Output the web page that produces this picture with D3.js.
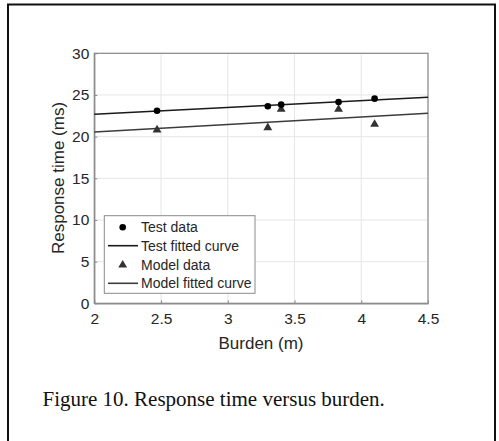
<!DOCTYPE html>
<html>
<head>
<meta charset="utf-8">
<script src="https://cdn.jsdelivr.net/npm/d3@7"></script>
<style>
  body { margin: 0; background: #fff; }
  svg text { font-family: "Liberation Sans", Arial, sans-serif; fill: #262626; }
  svg text.caption { font-family: "Liberation Serif", "Times New Roman", serif; fill: #111; }
</style>
</head>
<body>
<div id="chart"></div>
<script>
// data
var burden = [2.47, 3.30, 3.40, 3.83, 4.10];
var testData = [23.1, 23.64, 23.84, 24.16, 24.56];
var modelData = [20.8, 21.08, 23.28, 23.28, 21.48];
var fitBurden = [2, 4.5];
var testFit = [22.68, 24.72];
var modelFit = [20.56, 22.8];
var xTicks = [2, 2.5, 3, 3.5, 4, 4.5];
var yTicks = [0, 5, 10, 15, 20, 25, 30];
var legendLabels = ["Test data", "Test fitted curve", "Model data", "Model fitted curve"];

var W = 499, H = 441;
var svg = d3.select("#chart").append("svg")
  .attr("width", W)
  .attr("height", H);

// outer frame (open at the bottom)
svg.append("path")
  .attr("d", "M8,441V4.5H495V441")
  .attr("fill", "none")
  .attr("stroke", "#111")
  .attr("stroke-width", 2);

var x = d3.scaleLinear().domain([2, 4.5]).range([94.3, 428]);
var y = d3.scaleLinear().domain([0, 30]).range([303.3, 53.3]);

var g = svg.append("g");

// grid
g.selectAll(".gx").data(xTicks).enter().append("line")
  .attr("x1", d => x(d)).attr("x2", d => x(d))
  .attr("y1", y(0)).attr("y2", y(30))
  .attr("stroke", "#e6e6e6").attr("stroke-width", 1);
g.selectAll(".gy").data(yTicks).enter().append("line")
  .attr("x1", x(2)).attr("x2", x(4.5))
  .attr("y1", d => y(d)).attr("y2", d => y(d))
  .attr("stroke", "#e6e6e6").attr("stroke-width", 1);

// axes box
g.append("rect")
  .attr("x", x(2)).attr("y", y(30))
  .attr("width", x(4.5) - x(2)).attr("height", y(0) - y(30))
  .attr("fill", "none").attr("stroke", "#8a8a8a").attr("stroke-width", 1.2);

var xAxis = g.append("g")
  .attr("transform", "translate(0," + y(0) + ")")
  .call(d3.axisBottom(x).tickValues(xTicks).tickSizeInner(-3).tickSizeOuter(0).tickPadding(10)
    .tickFormat(d3.format("")));
var yAxis = g.append("g")
  .attr("transform", "translate(" + x(2) + ",0)")
  .call(d3.axisLeft(y).tickValues(yTicks).tickSizeInner(-3).tickSizeOuter(0).tickPadding(5));

[xAxis, yAxis].forEach(function(a) {
  a.select(".domain").attr("stroke", "#8a8a8a").attr("stroke-width", 1.2);
  a.selectAll(".tick line").attr("stroke", "#8a8a8a");
  a.selectAll("text").attr("font-size", 15.5).attr("fill", "#262626")
    .attr("font-family", "Liberation Sans, Arial, sans-serif");
});

// fitted lines
var line = d3.line().x(d => x(d[0])).y(d => y(d[1]));
g.append("path")
  .attr("d", line(d3.zip(fitBurden, testFit)))
  .attr("fill", "none").attr("stroke", "#1a1a1a").attr("stroke-width", 1.6);
g.append("path")
  .attr("d", line(d3.zip(fitBurden, modelFit)))
  .attr("fill", "none").attr("stroke", "#3c3c3c").attr("stroke-width", 1.6);

// markers
g.selectAll(".tri").data(d3.zip(burden, modelData)).enter().append("path")
  .attr("d", d3.symbol(d3.symbolTriangle, 34))
  .attr("transform", d => "translate(" + x(d[0]) + "," + y(d[1]) + ")")
  .attr("fill", "#333");
g.selectAll(".dot").data(d3.zip(burden, testData)).enter().append("circle")
  .attr("cx", d => x(d[0])).attr("cy", d => y(d[1])).attr("r", 3.3)
  .attr("fill", "#000");

// legend
var lg = svg.append("g").attr("transform", "translate(104.3,215.7)");
lg.append("rect")
  .attr("width", 150.7).attr("height", 77.6)
  .attr("fill", "#fff").attr("stroke", "#8a8a8a").attr("stroke-width", 1);
var rowY = [11.6, 30, 49.3, 67.6];
legendLabels.forEach(function(lab, i) {
  var ry = rowY[i];
  if (i === 0) {
    lg.append("circle").attr("cx", 18.4).attr("cy", ry).attr("r", 3.3).attr("fill", "#000");
  } else if (i === 2) {
    lg.append("path").attr("d", d3.symbol(d3.symbolTriangle, 34))
      .attr("transform", "translate(18.4," + ry + ")").attr("fill", "#333");
  } else {
    lg.append("line").attr("x1", 3.7).attr("x2", 33.7).attr("y1", ry).attr("y2", ry)
      .attr("stroke", i === 1 ? "#1a1a1a" : "#3c3c3c").attr("stroke-width", 1.6);
  }
  lg.append("text").attr("x", 36.7).attr("y", ry).attr("dy", "0.35em")
    .attr("font-size", 14).text(lab);
});

// axis labels
svg.append("text")
  .attr("x", 261).attr("y", 348.5)
  .attr("text-anchor", "middle").attr("font-size", 17)
  .text("Burden (m)");
svg.append("text")
  .attr("transform", "translate(64,178) rotate(-90)")
  .attr("text-anchor", "middle").attr("font-size", 17)
  .text("Response time (ms)");

// caption
svg.append("text")
  .attr("class", "caption")
  .attr("x", 42.5).attr("y", 406)
  .attr("font-size", 21)
  .text("Figure 10. Response time versus burden.");
</script>
</body>
</html>
